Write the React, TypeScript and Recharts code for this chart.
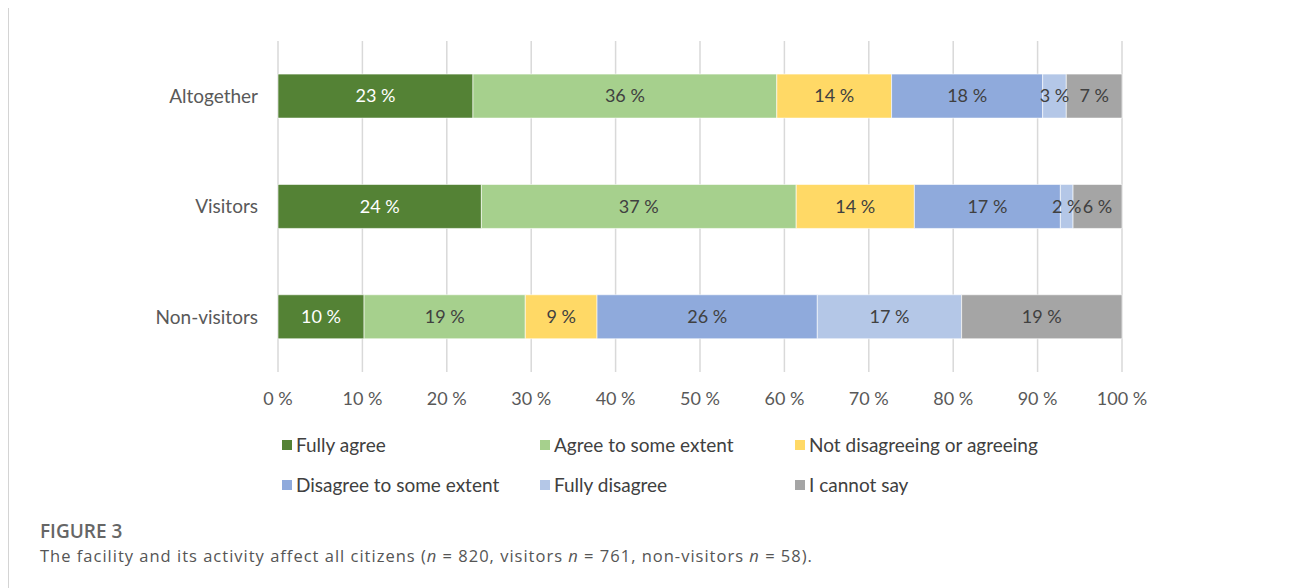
import { BarChart, Bar, XAxis, YAxis, CartesianGrid, LabelList } from "recharts";

const groups = ["Altogether", "Visitors", "Non-visitors"];
const fullyAgree = [23.1, 24.1, 10.2];
const agreeSome = [36.0, 37.3, 19.1];
const neutral = [13.6, 14.0, 8.5];
const disagreeSome = [17.9, 17.3, 26.1];
const fullyDisagree = [2.8, 1.5, 17.1];
const cannotSay = [6.6, 5.8, 19.0];
const xTicks = [0, 10, 20, 30, 40, 50, 60, 70, 80, 90, 100];

const seriesDefs = [
  { key: "fa", name: "Fully agree", values: fullyAgree, color: "#548235", text: "#ffffff" },
  { key: "as", name: "Agree to some extent", values: agreeSome, color: "#a6d08d", text: "#404040" },
  { key: "nd", name: "Not disagreeing or agreeing", values: neutral, color: "#ffd966", text: "#404040" },
  { key: "ds", name: "Disagree to some extent", values: disagreeSome, color: "#8faadc", text: "#404040" },
  { key: "fd", name: "Fully disagree", values: fullyDisagree, color: "#b4c7e7", text: "#404040" },
  { key: "cs", name: "I cannot say", values: cannotSay, color: "#a5a5a5", text: "#404040" },
];

const data = groups.map((g, i) => {
  const row: Record<string, string | number> = { group: g };
  seriesDefs.forEach((s) => (row[s.key] = s.values[i]));
  return row;
});

const FONT = "Lato, 'Open Sans', sans-serif";

// plain centred label, no wrapping inside narrow segments
function makeLabel(color: string) {
  return (props: any) => {
    const { x, y, width, height, value } = props;
    return (
      <text
        x={x + width / 2}
        y={y + height / 2}
        dy="0.35em"
        textAnchor="middle"
        fill={color}
        fontSize={18}
        fontFamily={FONT}
      >
        {`${Math.round(value)} %`}
      </text>
    );
  };
}

// legend laid out in three columns like the original
function LegendGrid() {
  const cols = [0, 258, 513];
  return (
    <div
      style={{
        position: "absolute",
        left: 273,
        top: 425,
        width: 800,
        height: 80,
        fontFamily: FONT,
        fontSize: 19,
        color: "#404040",
      }}
    >
      {seriesDefs.map((s, i) => (
        <div
          key={s.key}
          style={{
            position: "absolute",
            left: cols[i % 3],
            top: Math.floor(i / 3) * 40,
            display: "flex",
            alignItems: "center",
            whiteSpace: "nowrap",
          }}
        >
          <span style={{ width: 10, height: 10, background: s.color, display: "inline-block", marginRight: 4 }} />
          {s.name}
        </div>
      ))}
    </div>
  );
}

export default function App() {
  return (
    <div
      style={{
        position: "relative",
        width: 1290,
        height: 590,
        marginTop: -1,
        borderTop: "1px solid #d4d4d4",
        borderLeft: "1px solid #d4d4d4",
        background: "#fff",
      }}
    >
      <BarChart
        width={1284}
        height={420}
        data={data}
        layout="vertical"
        margin={{ top: 33, right: 171, left: 0, bottom: 26 }}
        barCategoryGap="30%"
        style={{ fontFamily: FONT }}
      >
        <CartesianGrid vertical horizontal={false} stroke="#d9d9d9" strokeWidth={1.5} />
        <XAxis
          type="number"
          domain={[0, 100]}
          ticks={xTicks}
          tickFormatter={(v) => `${v} %`}
          axisLine={false}
          tickLine={false}
          tickSize={0}
          tickMargin={20}
          tick={{ fill: "#595959", fontSize: 18 }}
          interval={0}
        />
        <YAxis
          type="category"
          dataKey="group"
          width={269}
          axisLine={false}
          tickLine={false}
          tickSize={0}
          tickMargin={20}
          tick={{ fill: "#595959", fontSize: 19 }}
        />
        {seriesDefs.map((s) => (
          <Bar
            key={s.key}
            dataKey={s.key}
            name={s.name}
            stackId="a"
            fill={s.color}
            stroke="#ffffff"
            strokeWidth={0.6}
            isAnimationActive={false}
          >
            <LabelList dataKey={s.key} content={makeLabel(s.text)} />
          </Bar>
        ))}
      </BarChart>
      <LegendGrid />
      <div
        style={{
          position: "absolute",
          left: 31,
          top: 511,
          fontFamily: "'Open Sans', sans-serif",
          color: "#666",
        }}
      >
        <div style={{ fontSize: 19, fontWeight: 600, lineHeight: "24px" }}>FIGURE 3</div>
        <div style={{ fontSize: 16.5, marginTop: 1, color: "#555", letterSpacing: 1 }}>
          The facility and its activity affect all citizens (<i>n</i> = 820, visitors <i>n</i> = 761, non-visitors{" "}
          <i>n</i> = 58).
        </div>
      </div>
    </div>
  );
}
